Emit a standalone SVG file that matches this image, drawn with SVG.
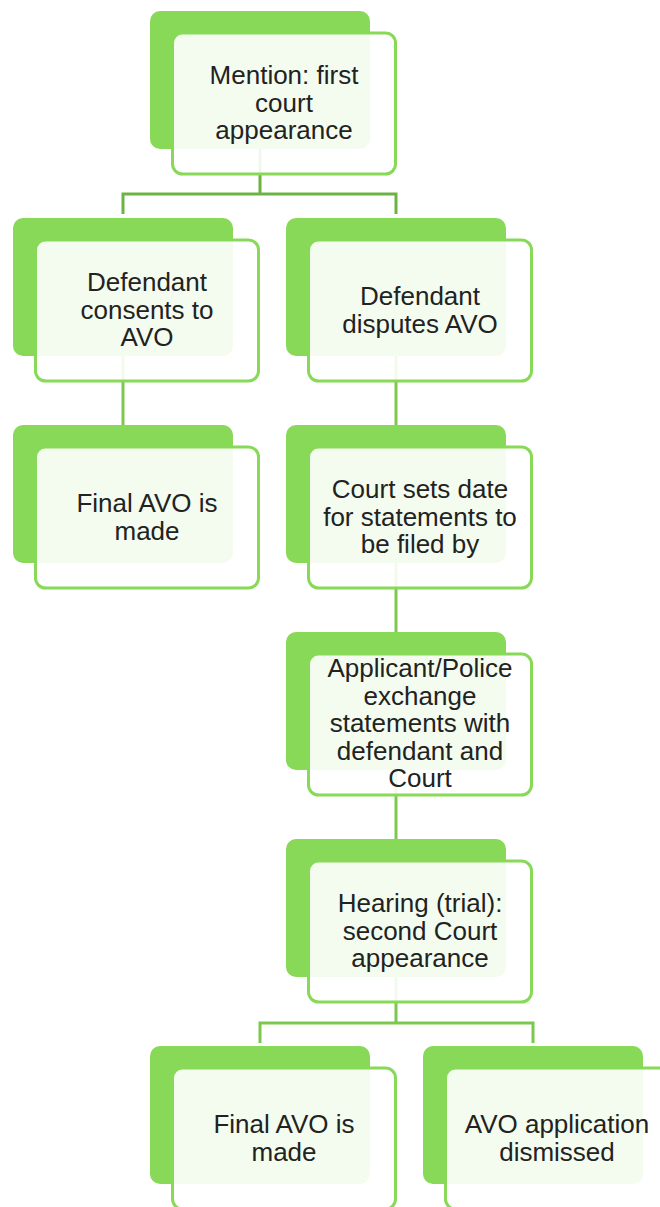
<svg xmlns="http://www.w3.org/2000/svg" width="660" height="1207" viewBox="0 0 660 1207">
<style>
.back{fill:#88D957;}
.front{fill:#ffffff;fill-opacity:0.9;stroke:#88D957;stroke-width:3;}
.conn{fill:none;stroke:#7CC84E;stroke-width:3;}
.conn.dark{stroke:#6CB345;}
text{font-family:"Liberation Sans",Arial,sans-serif;font-size:26px;fill:#222222;text-anchor:middle;}
</style>
<rect width="660" height="1207" fill="#ffffff"/>
<g id="connectors">
<path class="conn dark" d="M260,148 V194 M123,214 V194 H396 V214"/>
<path class="conn" d="M123,356 V425"/>
<path class="conn" d="M396,356 V425"/>
<path class="conn" d="M396,563 V632"/>
<path class="conn" d="M396,770 V839"/>
<path class="conn" d="M396,977 V1023 M260,1043 V1023 H533 V1043"/>
</g>
<g id="n1">
<rect class="back" x="150" y="11" width="220" height="138" rx="10"/>
<rect class="front" x="172.5" y="33" width="223" height="141" rx="10"/>
<text x="284" y="84">Mention: first</text>
<text x="284" y="111.5">court</text>
<text x="284" y="139">appearance</text>
</g>
<g id="n2">
<rect class="back" x="13" y="218" width="220" height="138" rx="10"/>
<rect class="front" x="35.5" y="240" width="223" height="141" rx="10"/>
<text x="147" y="291">Defendant</text>
<text x="147" y="318.5">consents to</text>
<text x="147" y="346">AVO</text>
</g>
<g id="n3">
<rect class="back" x="286" y="218" width="220" height="138" rx="10"/>
<rect class="front" x="308.5" y="240" width="223" height="141" rx="10"/>
<text x="420" y="305">Defendant</text>
<text x="420" y="332.5">disputes AVO</text>
</g>
<g id="n4">
<rect class="back" x="13" y="425" width="220" height="138" rx="10"/>
<rect class="front" x="35.5" y="447" width="223" height="141" rx="10"/>
<text x="147" y="512">Final AVO is</text>
<text x="147" y="539.5">made</text>
</g>
<g id="n5">
<rect class="back" x="286" y="425" width="220" height="138" rx="10"/>
<rect class="front" x="308.5" y="447" width="223" height="141" rx="10"/>
<text x="420" y="498">Court sets date</text>
<text x="420" y="525.5">for statements to</text>
<text x="420" y="553">be filed by</text>
</g>
<g id="n6">
<rect class="back" x="286" y="632" width="220" height="138" rx="10"/>
<rect class="front" x="308.5" y="654" width="223" height="141" rx="10"/>
<text x="420" y="677">Applicant/Police</text>
<text x="420" y="704.5">exchange</text>
<text x="420" y="732">statements with</text>
<text x="420" y="759.5">defendant and</text>
<text x="420" y="787">Court</text>
</g>
<g id="n7">
<rect class="back" x="286" y="839" width="220" height="138" rx="10"/>
<rect class="front" x="308.5" y="861" width="223" height="141" rx="10"/>
<text x="420" y="912">Hearing (trial):</text>
<text x="420" y="939.5">second Court</text>
<text x="420" y="967">appearance</text>
</g>
<g id="n8">
<rect class="back" x="150" y="1046" width="220" height="138" rx="10"/>
<rect class="front" x="172.5" y="1068" width="223" height="141" rx="10"/>
<text x="284" y="1133">Final AVO is</text>
<text x="284" y="1160.5">made</text>
</g>
<g id="n9">
<rect class="back" x="423" y="1046" width="220" height="138" rx="10"/>
<rect class="front" x="445.5" y="1068" width="223" height="141" rx="10"/>
<text x="557" y="1133">AVO application</text>
<text x="557" y="1160.5">dismissed</text>
</g>
</svg>
